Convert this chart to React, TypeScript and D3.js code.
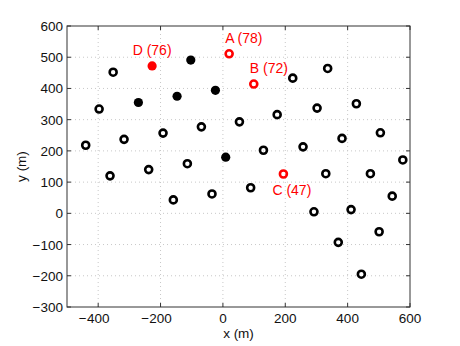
import React from "react";
import * as d3 from "d3";

// open black markers
const openX = [-352, -397, -440, -317, -192, -69, -362, -238, -114, -159, -35,
  224, 336, 53, 174, 302, 428, 130, 257, 382, 505, 577,
  89, 330, 473, 543, 292, 411, 501, 370, 444];
const openY = [452, 334, 218, 237, 257, 277, 120, 140, 159, 43, 62,
  433, 464, 293, 316, 337, 351, 202, 213, 240, 258, 171,
  82, 127, 127, 55, 5, 12, -59, -93, -195];

// filled black markers
const filledX = [-271, -147, -24, -103, 9];
const filledY = [355, 375, 394, 491, 180];

// labelled red markers
const redNames = ["A (78)", "B (72)", "C (47)", "D (76)"];
const redX = [20, 99, 194, -227];
const redY = [511, 414, 126, 472];
const redFilled = [false, false, false, true];

const xTicks = [-400, -200, 0, 200, 400, 600];
const yTicks = [-300, -200, -100, 0, 100, 200, 300, 400, 500, 600];

const W = 460;
const H = 346;
const margin = { left: 67, right: 50, top: 26, bottom: 39 };
const font = "'Liberation Sans', Arial, Helvetica, sans-serif";

const fmt = (v: number) => (v < 0 ? "\u2212" + Math.abs(v) : String(v));

export default function App() {
  const x = d3.scaleLinear().domain([-500, 600]).range([margin.left, W - margin.right]);
  const y = d3.scaleLinear().domain([-300, 600]).range([H - margin.bottom, margin.top]);
  const [x0, x1] = x.range();
  const [y0, y1] = y.range(); // y0 bottom, y1 top
  const tick = 4;
  const axisColor = "#333";
  const fs = 13.5;

  return (
    <svg width={W} height={H} style={{ position: "absolute", left: 0, top: 0, background: "#fff" }}
      fontFamily={font}>
      <rect x={0} y={0} width={W} height={H} fill="#fff" />
      {/* grid */}
      {xTicks.slice(0, -1).map((t) => (
        <line key={"gx" + t} x1={x(t)} x2={x(t)} y1={y0} y2={y1} stroke="#c8c8c8" strokeWidth={1}
          strokeDasharray="1,3" />
      ))}
      {yTicks.slice(1, -1).map((t) => (
        <line key={"gy" + t} x1={x0} x2={x1} y1={y(t)} y2={y(t)} stroke="#c8c8c8" strokeWidth={1}
          strokeDasharray="1,3" />
      ))}
      {/* axis box */}
      <rect x={x0} y={y1} width={x1 - x0} height={y0 - y1} fill="none" stroke={axisColor} strokeWidth={1} />
      {xTicks.map((t) => (
        <g key={"tx" + t}>
          <line x1={x(t)} x2={x(t)} y1={y0} y2={y0 - tick} stroke={axisColor} />
          <line x1={x(t)} x2={x(t)} y1={y1} y2={y1 + tick} stroke={axisColor} />
          <text x={x(t)} y={y0 + 16} fontSize={fs} textAnchor="middle" fill="#111">{String(Math.abs(t))}</text>
          {t < 0 && (
            <text x={x(t) - 11.5} y={y0 + 16} fontSize={fs} textAnchor="end" fill="#111">{"\u2212"}</text>
          )}
        </g>
      ))}
      {yTicks.map((t) => (
        <g key={"ty" + t}>
          <line x1={x0} x2={x0 + tick} y1={y(t)} y2={y(t)} stroke={axisColor} />
          <line x1={x1} x2={x1 - tick} y1={y(t)} y2={y(t)} stroke={axisColor} />
          <text x={x0 - 4} y={y(t) + 5} fontSize={fs} textAnchor="end" fill="#111">{fmt(t)}</text>
        </g>
      ))}
      <text x={(x0 + x1) / 2} y={338} fontSize={fs} textAnchor="middle" fill="#111">x (m)</text>
      <text transform={`translate(26,${(y0 + y1) / 2}) rotate(-90)`} fontSize={fs} textAnchor="middle"
        fill="#111">y (m)</text>

      {/* markers */}
      {openX.map((v, i) => (
        <circle key={"o" + i} cx={x(v)} cy={y(openY[i])} r={3.5} fill="none" stroke="#000" strokeWidth={2.6} />
      ))}
      {filledX.map((v, i) => (
        <circle key={"f" + i} cx={x(v)} cy={y(filledY[i])} r={4.6} fill="#000" />
      ))}
      {redX.map((v, i) =>
        redFilled[i] ? (
          <circle key={"r" + i} cx={x(v)} cy={y(redY[i])} r={4.6} fill="#ff0000" />
        ) : (
          <circle key={"r" + i} cx={x(v)} cy={y(redY[i])} r={3.5} fill="none" stroke="#ff0000" strokeWidth={2.6} />
        )
      )}
      {/* labels */}
      {redNames.map((n, i) => {
        const px = x(redX[i]);
        const py = y(redY[i]);
        const below = redY[i] < 200;
        const centered = redFilled[i];
        return (
          <text key={"l" + i} x={centered ? px : px - (below ? 11 : 4)} y={below ? py + 21 : py - 11}
            fontSize={14} fill="#ff0000" textAnchor={centered ? "middle" : "start"}>{n}</text>
        );
      })}
    </svg>
  );
}
